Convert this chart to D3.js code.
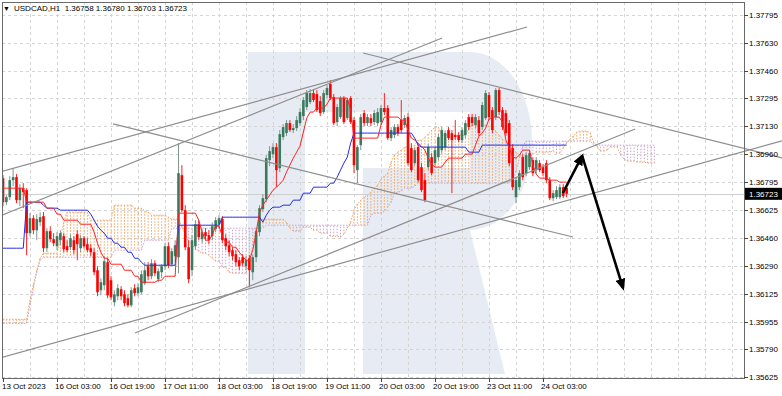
<!DOCTYPE html>
<html>
<head>
<meta charset="utf-8">
<script src="https://cdn.jsdelivr.net/npm/d3@7"></script>
<style>
  html, body { margin: 0; padding: 0; background: #fff; }
  svg { display: block; font-family: "Liberation Sans", Arial, sans-serif; }
</style>
</head>
<body>
<svg id="chart" width="782" height="396"></svg>
<script>
const titleText = "USDCAD,H1  1.36758 1.36780 1.36703 1.36723";
const lastPrice = 1.36723;

const priceTicks = [1.37795, 1.37630, 1.37460, 1.37295, 1.37130, 1.36960, 1.36795,
  1.36625, 1.36460, 1.36290, 1.36125, 1.35955, 1.35790, 1.35625];

const timeLabels = ["13 Oct 2023", "16 Oct 03:00", "16 Oct 19:00", "17 Oct 11:00",
  "18 Oct 03:00", "18 Oct 19:00", "19 Oct 11:00", "20 Oct 03:00", "20 Oct 19:00",
  "23 Oct 11:00", "24 Oct 03:00"];
const timeLabelBars = [0, 16, 32, 48, 64, 80, 96, 112, 128, 144, 160];

// hourly candles, bar 0 = 13 Oct
const opens = [1.36817,1.36673,1.36703,1.36805,1.36823,1.36685,1.36757,1.36745,1.36487,1.36577,
  1.36505,1.36553,1.36589,1.36397,1.36499,1.36451,1.36409,1.36445,1.36469,1.36409,
  1.36403,1.36445,1.36481,1.36397,1.36457,1.36421,1.36397,1.36373,1.36265,1.36145,
  1.36175,1.36313,1.36205,1.36073,1.36109,1.36151,1.36121,1.36097,1.36055,1.36157,
  1.36127,1.36133,1.36187,1.36289,1.36229,1.36307,1.36211,1.36253,1.36289,1.36409,
  1.36301,1.36349,1.36343,1.36835,1.36625,1.36403,1.36265,1.36409,1.36541,1.36451,
  1.36493,1.36475,1.36469,1.36511,1.36541,1.36571,1.36457,1.36415,1.36385,1.36361,
  1.36325,1.36343,1.36289,1.36337,1.36253,1.36343,1.36493,1.36631,1.36691,1.36925,
  1.36961,1.37003,1.36877,1.37063,1.37087,1.37147,1.37105,1.37117,1.37147,1.37189,
  1.37243,1.37273,1.37327,1.37321,1.37279,1.37213,1.37315,1.37381,1.37303,1.37153,
  1.37183,1.37297,1.37177,1.37297,1.37165,1.36865,1.37015,1.37207,1.37147,1.37177,
  1.37153,1.37147,1.37153,1.37237,1.37237,1.37057,1.37075,1.37123,1.37165,1.37135,
  1.37183,1.36997,1.36907,1.37003,1.36883,1.36805,1.36883,1.36943,1.36907,1.36943,
  1.36985,1.37003,1.37105,1.37087,1.37075,1.37075,1.37045,1.37075,1.37183,1.37183,
  1.37135,1.37165,1.37123,1.37177,1.37315,1.37225,1.37183,1.37345,1.37225,1.37207,
  1.37147,1.36997,1.36703,1.36763,1.36943,1.36847,1.36883,1.36925,1.36865,1.36907,
  1.36883,1.36907,1.36805,1.36697,1.36703,1.36703,1.36763,1.36758];
const highs = [1.36835,1.36715,1.36829,1.36877,1.36841,1.36781,1.36787,1.36757,1.36607,1.36595,
  1.36601,1.36613,1.36613,1.36517,1.36529,1.36487,1.36493,1.36505,1.36487,1.36445,
  1.36481,1.36469,1.36505,1.36475,1.36469,1.36457,1.36421,1.36397,1.36289,1.36217,
  1.36349,1.36337,1.36229,1.36145,1.36181,1.36169,1.36145,1.36121,1.36163,1.36181,
  1.36187,1.36265,1.36313,1.36313,1.36331,1.36325,1.36277,1.36301,1.36427,1.36433,
  1.36397,1.36445,1.37027,1.36895,1.36655,1.36445,1.36475,1.36565,1.36565,1.36511,
  1.36517,1.36505,1.36553,1.36583,1.36595,1.36589,1.36481,1.36445,1.36403,1.36385,
  1.36343,1.36361,1.36349,1.36355,1.36361,1.36517,1.36655,1.36721,1.36955,1.37009,
  1.37027,1.37027,1.37105,1.37141,1.37165,1.37165,1.37141,1.37189,1.37237,1.37303,
  1.37345,1.37351,1.37351,1.37345,1.37309,1.37345,1.37375,1.37405,1.37321,1.37261,
  1.37309,1.37309,1.37297,1.37309,1.37183,1.37015,1.37201,1.37225,1.37201,1.37201,
  1.37225,1.37237,1.37255,1.37327,1.37255,1.37123,1.37141,1.37141,1.37285,1.37195,
  1.37207,1.37027,1.37003,1.37021,1.36907,1.36847,1.37021,1.36967,1.37003,1.37081,
  1.37123,1.37105,1.37123,1.37105,1.37165,1.37093,1.37123,1.37165,1.37201,1.37201,
  1.37201,1.37189,1.37273,1.37345,1.37333,1.37243,1.37357,1.37357,1.37243,1.37225,
  1.37165,1.37021,1.36823,1.36865,1.36961,1.36973,1.36985,1.36943,1.36943,1.36925,
  1.36901,1.36925,1.36823,1.36745,1.36769,1.36781,1.36781,1.36780];
const lows = [1.36649,1.36655,1.36685,1.36769,1.36667,1.36649,1.36637,1.36355,1.36469,1.36481,
  1.36445,1.36529,1.36373,1.36373,1.36433,1.36409,1.36385,1.36415,1.36373,1.36373,
  1.36385,1.36361,1.36325,1.36373,1.36397,1.36373,1.36349,1.36235,1.36109,1.36115,
  1.36145,1.36097,1.36085,1.36049,1.36085,1.36085,1.36049,1.36043,1.36043,1.36109,
  1.36109,1.36121,1.36175,1.36205,1.36211,1.36229,1.36193,1.36217,1.36265,1.36277,
  1.36289,1.36313,1.36247,1.36613,1.36385,1.36187,1.36229,1.36385,1.36445,1.36427,
  1.36445,1.36421,1.36445,1.36493,1.36517,1.36427,1.36385,1.36349,1.36325,1.36289,
  1.36265,1.36289,1.36265,1.36163,1.36205,1.36313,1.36469,1.36613,1.36673,1.36889,
  1.36937,1.36763,1.36853,1.37045,1.37069,1.37093,1.37087,1.37099,1.37129,1.37165,
  1.37225,1.37261,1.37273,1.37213,1.37189,1.37201,1.37297,1.37285,1.37135,1.37129,
  1.37171,1.37141,1.37165,1.37141,1.36847,1.36787,1.36985,1.37129,1.37129,1.37129,
  1.37135,1.37129,1.37135,1.37195,1.37045,1.37039,1.37057,1.37069,1.37087,1.37117,
  1.36895,1.36853,1.36889,1.36793,1.36733,1.36673,1.36865,1.36835,1.36889,1.36925,
  1.36967,1.36985,1.37045,1.36727,1.37045,1.37033,1.37027,1.37057,1.37105,1.37129,
  1.37117,1.37069,1.37105,1.37165,1.37165,1.37087,1.37165,1.37195,1.37105,1.37069,
  1.36889,1.36745,1.36667,1.36745,1.36805,1.36829,1.36865,1.36829,1.36847,1.36853,
  1.36829,1.36787,1.36685,1.36679,1.36691,1.36691,1.36697,1.36703];
const closes = [1.36673,1.36703,1.36805,1.36823,1.36685,1.36757,1.36733,1.36487,1.36577,1.36505,
  1.36571,1.36583,1.36397,1.36499,1.36451,1.36427,1.36469,1.36487,1.36391,1.36385,
  1.36457,1.36385,1.36421,1.36457,1.36409,1.36385,1.36373,1.36253,1.36133,1.36193,
  1.36319,1.36115,1.36103,1.36121,1.36157,1.36109,1.36067,1.36055,1.36145,1.36127,
  1.36163,1.36241,1.36265,1.36229,1.36307,1.36247,1.36259,1.36289,1.36409,1.36295,
  1.36379,1.36415,1.36847,1.36625,1.36403,1.36211,1.36445,1.36541,1.36463,1.36493,
  1.36469,1.36445,1.36529,1.36565,1.36577,1.36445,1.36409,1.36373,1.36349,1.36313,
  1.36289,1.36307,1.36325,1.36265,1.36343,1.36499,1.36637,1.36697,1.36937,1.36979,
  1.37003,1.36865,1.37081,1.37123,1.37147,1.37105,1.37117,1.37165,1.37213,1.37285,
  1.37327,1.37327,1.37285,1.37225,1.37207,1.37327,1.37357,1.37297,1.37147,1.37243,
  1.37297,1.37153,1.37285,1.37153,1.36895,1.37003,1.37183,1.37147,1.37183,1.37147,
  1.37207,1.37213,1.37237,1.37213,1.37057,1.37105,1.37123,1.37087,1.37105,1.37177,
  1.36907,1.36865,1.36985,1.36805,1.36745,1.36685,1.37003,1.36847,1.36985,1.37063,
  1.37105,1.37087,1.37057,1.37045,1.37063,1.37045,1.37105,1.37147,1.37123,1.37147,
  1.37183,1.37087,1.37255,1.37327,1.37183,1.37105,1.37345,1.37213,1.37123,1.37087,
  1.36907,1.36763,1.36805,1.36847,1.36823,1.36955,1.36967,1.36847,1.36925,1.36865,
  1.36847,1.36805,1.36697,1.36727,1.36745,1.36763,1.36709,1.36723];

// Ichimoku lines as [first bar, value] runs
const tenkanRuns = [[0,1.36757],[7,1.36673],[13,1.36637],[16,1.36601],[18,1.36565],[23,1.36541],
  [27,1.36493],[28,1.36427],[29,1.36373],[30,1.36337],[32,1.36301],[36,1.36265],[39,1.36229],
  [41,1.36193],[46,1.36205],[48,1.36229],[52,1.36607],[58,1.36565],[59,1.36493],[60,1.36445],
  [62,1.36475],[63,1.36529],[65,1.36469],[66,1.36433],[68,1.36403],[70,1.36373],[71,1.36349],
  [72,1.36325],[74,1.36385],[75,1.36487],[76,1.36613],[77,1.36655],[78,1.36685],[79,1.36715],
  [80,1.36745],[81,1.36763],[82,1.36781],[83,1.36805],[84,1.36853],[85,1.36895],[86,1.36937],
  [87,1.36973],[88,1.37009],[89,1.37093],[90,1.37177],[91,1.37213],[93,1.37237],[96,1.37261],
  [97,1.37297],[103,1.37225],[104,1.37057],[112,1.37135],[113,1.37183],[118,1.37165],
  [120,1.37105],[121,1.37057],[122,1.37045],[123,1.37027],[124,1.37009],[125,1.36985],
  [126,1.36937],[127,1.36901],[128,1.36883],[131,1.36913],[132,1.36937],[137,1.36961],
  [140,1.37015],[141,1.37069],[142,1.37087],[143,1.37117],[144,1.37171],[145,1.37183],
  [148,1.37153],[149,1.37045],[150,1.36997],[151,1.36943],[152,1.36937],[153,1.36955],
  [154,1.36985],[157,1.36895],[158,1.36841],[159,1.36817],[162,1.36805],[165,1.36793]];
const kijunRuns = [[0,1.36397],[7,1.36673],[12,1.36655],[13,1.36637],[17,1.36625],[26,1.36601],
  [27,1.36565],[28,1.36529],[29,1.36505],[30,1.36487],[31,1.36457],[33,1.36427],[35,1.36403],
  [37,1.36373],[39,1.36337],[41,1.36313],[42,1.36295],[52,1.36535],[65,1.36583],[77,1.36553],
  [78,1.36595],[79,1.36625],[80,1.36643],[83,1.36655],[86,1.36685],[89,1.36727],[92,1.36763],
  [97,1.36787],[99,1.36823],[100,1.36865],[101,1.36907],[102,1.36943],[103,1.37027],
  [104,1.37087],[122,1.37057],[123,1.37015],[124,1.37003],[138,1.36973],[142,1.37015]];
const spanARuns = [[0,1.35971],[8,1.36085],[9,1.36181],[10,1.36265],[11,1.36337],[12,1.36367],
  [17,1.36457],[18,1.36553],[19,1.36613],[26,1.36565],[33,1.36655],[39,1.36637],[42,1.36619],
  [43,1.36613],[44,1.36595],[49,1.36583],[50,1.36571],[53,1.36529],[54,1.36481],[55,1.36439],
  [56,1.36415],[57,1.36397],[58,1.36379],[59,1.36367],[61,1.36355],[62,1.36337],[63,1.36319],
  [65,1.36283],[67,1.36253],[68,1.36247],[73,1.36313],[74,1.36415],[75,1.36517],[76,1.36571],
  [84,1.36553],[85,1.36517],[86,1.36499],[89,1.36523],[92,1.36505],[94,1.36487],[97,1.36469],
  [100,1.36463],[101,1.36481],[102,1.36517],[103,1.36553],[104,1.36625],[105,1.36661],
  [106,1.36685],[107,1.36703],[108,1.36715],[109,1.36733],[110,1.36757],[111,1.36775],
  [112,1.36811],[113,1.36829],[114,1.36847],[115,1.36913],[116,1.36955],[117,1.36973],
  [118,1.36985],[119,1.37003],[122,1.37015],[123,1.37045],[125,1.37063],[126,1.37081],
  [127,1.37105],[128,1.37123],[130,1.37075],[138,1.37111],[139,1.37135],[144,1.37129],
  [146,1.37099],[147,1.37075],[148,1.37051],[149,1.37033],[150,1.37015],[151,1.36997],
  [152,1.36973],[153,1.36955],[154,1.36943],[157,1.36961],[158,1.36973],[163,1.36979],
  [164,1.36967],[166,1.36997],[167,1.37027],[168,1.37051],[169,1.37069],[170,1.37093],
  [171,1.37099],[174,1.37087],[175,1.37033],[176,1.37009],[177,1.36979],[179,1.36985],
  [180,1.37003],[183,1.36955],[184,1.36931],[185,1.36919],[188,1.36913],[191,1.36907]];
const spanBRuns = [[0,1.35947],[8,1.36055],[9,1.36157],[10,1.36253],[11,1.36325],[12,1.36343],
  [33,1.36385],[42,1.36445],[50,1.36517],[78,1.36535],[109,1.36595],[110,1.36607],[113,1.36619],
  [114,1.36643],[115,1.36673],[116,1.36727],[117,1.36733],[118,1.36739],[119,1.36757],
  [122,1.36769],[123,1.36787],[151,1.36805],[152,1.36859],[153,1.36937],[154,1.37009],
  [155,1.37039],[175,1.37015]];
const lastBar = 167;
const cloudLastBar = 193;

// drawn objects: [bar, price] end points
const trendLines = [
  [[-1, 1.36854], [155.3, 1.37723]],
  [[-1, 1.36590], [130.1, 1.37657]],
  [[39.1, 1.35889], [187.3, 1.37112]],
  [[-1, 1.35739], [230.8, 1.37040]],
  [[32.6, 1.37142], [168.9, 1.36464]],
  [[106.7, 1.37567], [230.8, 1.36938]]
];
const arrows = [
  [[165.9, 1.36728], [171.6, 1.36950]],
  [[171.6, 1.36950], [183.7, 1.36159]]
];

const svg = d3.select("#chart");
const plot = { left: 2, top: 2, right: 744, bottom: 378 };

const x = d3.scaleLinear().domain([0, 220]).range([3, 745.5]);
const y = d3.scaleLinear().domain([1.35625, 1.37795]).range([377, 15]);

function expandRuns(runs, last) {
  const out = [];
  runs.forEach(function (r, k) {
    const end = k + 1 < runs.length ? runs[k + 1][0] - 1 : last;
    for (let i = r[0]; i <= end; i++) out.push({ i: i, v: r[1] });
  });
  return out;
}

const defs = svg.append("defs");
defs.append("clipPath").attr("id", "plotClip").append("rect")
  .attr("x", plot.left).attr("y", plot.top)
  .attr("width", plot.right - plot.left).attr("height", plot.bottom - plot.top);
defs.append("clipPath").attr("id", "lineClip").append("rect")
  .attr("x", plot.left).attr("y", plot.top)
  .attr("width", 782 - plot.left).attr("height", plot.bottom - plot.top);
defs.append("marker")
  .attr("id", "head")
  .attr("viewBox", "0 0 12 10")
  .attr("refX", 9).attr("refY", 5)
  .attr("markerWidth", 12).attr("markerHeight", 10)
  .attr("markerUnits", "userSpaceOnUse")
  .attr("orient", "auto")
  .append("path").attr("d", "M0,0 L12,5 L0,10 Z").attr("fill", "#000");

svg.append("rect").attr("width", 782).attr("height", 396).attr("fill", "#fff");

// watermark logo
const wm = svg.append("g").attr("clip-path", "url(#plotClip)").attr("fill", "#e7ecf4");
wm.append("rect").attr("x", 248).attr("y", 52).attr("width", 57).attr("height", 322);
wm.append("rect").attr("x", 248).attr("y", 52).attr("width", 222).attr("height", 60);
wm.append("path").attr("d", "M470,52 A62,89 0 0 1 470,230 Z");
wm.append("rect").attr("x", 363).attr("y", 168).attr("width", 108).attr("height", 62);
wm.append("path").attr("d", "M363,230 L470,230 L505,374 L363,374 Z");

// grid
const grid = svg.append("g").attr("clip-path", "url(#plotClip)")
  .attr("stroke", "#d4d4d4").attr("stroke-dasharray", "3,3").attr("stroke-width", 1);
grid.selectAll("line.h").data(priceTicks).enter().append("line")
  .attr("x1", plot.left).attr("x2", plot.right)
  .attr("y1", d => Math.round(y(d)) + 0.5).attr("y2", d => Math.round(y(d)) + 0.5);
grid.selectAll("line.v").data(d3.range(8, 220, 8)).enter().append("line")
  .attr("x1", d => Math.round(x(d)) + 0.5).attr("x2", d => Math.round(x(d)) + 0.5)
  .attr("y1", plot.top).attr("y2", plot.bottom);

const plotG = svg.append("g").attr("clip-path", "url(#plotClip)");

// cloud
const thistle = "#c9a3c9";
const sandy = "#f4a460";
const spanA = expandRuns(spanARuns, cloudLastBar);
const spanB = expandRuns(spanBRuns, cloudLastBar);
plotG.append("g").selectAll("line").data(spanA).enter().append("line")
  .attr("x1", d => x(d.i)).attr("x2", d => x(d.i))
  .attr("y1", d => y(d.v)).attr("y2", (d, k) => y(spanB[k].v))
  .attr("stroke", (d, k) => d.v >= spanB[k].v ? sandy : thistle)
  .attr("stroke-width", 1)
  .attr("stroke-dasharray", "1.5,1.5");

const line = d3.line().x(d => x(d.i)).y(d => y(d.v));
plotG.append("path").datum(spanB).attr("d", line)
  .attr("fill", "none").attr("stroke", thistle).attr("stroke-dasharray", "1.5,1.5");
plotG.append("path").datum(spanA).attr("d", line)
  .attr("fill", "none").attr("stroke", sandy).attr("stroke-dasharray", "1.5,1.5");

// bid line
plotG.append("line")
  .attr("x1", plot.left).attr("x2", plot.right)
  .attr("y1", Math.round(y(lastPrice)) + 0.5).attr("y2", Math.round(y(lastPrice)) + 0.5)
  .attr("stroke", "#cfcfcf");

// candles
const bars = d3.range(opens.length).map(function (i) {
  return { i: i, o: opens[i], h: highs[i], l: lows[i], c: closes[i] };
});
const candle = plotG.append("g").selectAll("g").data(bars).enter().append("g");
candle.append("line")
  .attr("x1", d => x(d.i)).attr("x2", d => x(d.i))
  .attr("y1", d => y(d.h)).attr("y2", d => y(d.l))
  .attr("stroke", d => d.c >= d.o ? "#7f968b" : "#ff2020")
  .attr("stroke-width", 1);
candle.append("rect")
  .attr("x", d => x(d.i) - 1.3)
  .attr("width", 2.6)
  .attr("y", d => y(Math.max(d.o, d.c)))
  .attr("height", d => Math.max(1, Math.abs(y(d.o) - y(d.c))))
  .attr("fill", d => d.c >= d.o ? "#3b7a5e" : "#ff0000");

// tenkan / kijun
plotG.append("path").datum(expandRuns(kijunRuns, lastBar)).attr("d", line)
  .attr("fill", "none").attr("stroke", "#1f2cf0").attr("stroke-width", 1);
plotG.append("path").datum(expandRuns(tenkanRuns, lastBar)).attr("d", line)
  .attr("fill", "none").attr("stroke", "#f22").attr("stroke-width", 1);

// trend lines
const tl = svg.append("g").attr("clip-path", "url(#lineClip)");
tl.selectAll("line").data(trendLines).enter().append("line")
  .attr("x1", d => x(d[0][0])).attr("y1", d => y(d[0][1]))
  .attr("x2", d => x(d[1][0])).attr("y2", d => y(d[1][1]))
  .attr("stroke", "#8e8e8e").attr("stroke-width", 1.2);

// arrows
svg.append("g").selectAll("line").data(arrows).enter().append("line")
  .attr("x1", d => x(d[0][0])).attr("y1", d => y(d[0][1]))
  .attr("x2", d => x(d[1][0])).attr("y2", d => y(d[1][1]))
  .attr("stroke", "#000").attr("stroke-width", 2.6)
  .attr("marker-end", "url(#head)");

// frame
svg.append("rect")
  .attr("x", plot.left + 0.5).attr("y", plot.top + 0.5)
  .attr("width", plot.right - plot.left).attr("height", plot.bottom - plot.top)
  .attr("fill", "none").attr("stroke", "#6a6a6a");

// price axis
const pa = svg.append("g").attr("font-size", 8).attr("fill", "#000");
pa.selectAll("line").data(priceTicks).enter().append("line")
  .attr("x1", plot.right).attr("x2", plot.right + 4)
  .attr("y1", d => Math.round(y(d)) + 0.5).attr("y2", d => Math.round(y(d)) + 0.5)
  .attr("stroke", "#444");
pa.selectAll("text").data(priceTicks).enter().append("text")
  .attr("x", plot.right + 5).attr("y", d => y(d) + 3)
  .text(d => d.toFixed(5));

const by = y(lastPrice);
svg.append("rect").attr("x", plot.right + 1).attr("y", by - 6)
  .attr("width", 37).attr("height", 12).attr("fill", "#000");
svg.append("text").attr("x", plot.right + 5).attr("y", by + 3)
  .attr("font-size", 8).attr("fill", "#fff").text(lastPrice.toFixed(5));

// time axis
const ta = svg.append("g").attr("font-size", 8).attr("fill", "#000");
ta.selectAll("line").data(timeLabelBars).enter().append("line")
  .attr("x1", d => Math.round(x(d)) + 0.5).attr("x2", d => Math.round(x(d)) + 0.5)
  .attr("y1", plot.bottom).attr("y2", plot.bottom + 4)
  .attr("stroke", "#444");
ta.selectAll("text").data(timeLabels).enter().append("text")
  .attr("x", (d, k) => Math.max(2, x(timeLabelBars[k]) - 2))
  .attr("y", 389)
  .text(d => d);

// header
svg.append("text").attr("x", 3).attr("y", 11).attr("font-size", 7).text("\u25BC");
svg.append("text").attr("x", 14).attr("y", 11).attr("font-size", 8)
  .attr("xml:space", "preserve").style("white-space", "pre").text(titleText);
</script>
</body>
</html>
